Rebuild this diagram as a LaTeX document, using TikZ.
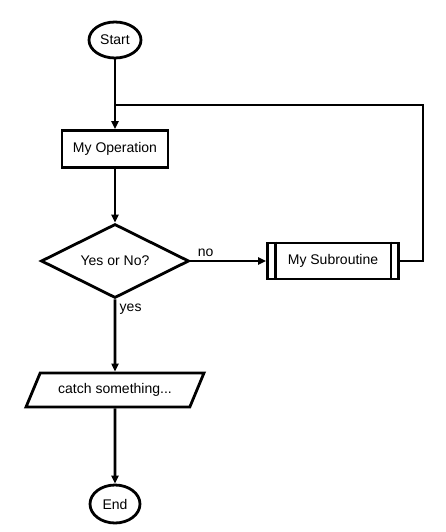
\documentclass[tikz,border=0pt]{standalone}
\usepackage{fontspec}
\setmainfont{Liberation Sans}
\usetikzlibrary{arrows.meta,calc,shapes.geometric}

\begin{document}
\begin{tikzpicture}[x=1pt, y=-1pt, >={Triangle[length=8pt,width=7pt]}, line width=2.8pt,
    every node/.style={font=\fontsize{14}{16}\selectfont},
    terminal/.style={draw, ellipse, minimum width=52, minimum height=36, inner sep=0pt},
    process/.style={draw, rectangle, minimum width=106, minimum height=37},
    decision/.style={draw, diamond, aspect=2, minimum width=148, minimum height=74, inner sep=0pt},
    inout/.style={draw, trapezium, trapezium left angle=60, trapezium right angle=120,
      trapezium stretches=true, minimum width=178, minimum height=34},
    subproc/.style={draw, rectangle, minimum width=131, minimum height=36}]
  % margens da figura
  \useasboundingbox (0,0) rectangle (446,532);

  % blocos do fluxograma
  \node[terminal] (start) at (115,40) {Start};
  \node[process]  (op)    at (115,149) {My Operation};
  \node[decision] (dec)   at (115,261) {Yes or No?};
  \node[subproc]  (sub)   at (333,261) {My Subroutine};
  \node[inout]    (io)    at (115,390) {catch something...};
  \node[terminal, minimum width=50, minimum height=38] (stop) at (115,504) {End};

  % barras laterais da subrotina
  \draw ($(sub.north west)+(9,0)$) -- ($(sub.south west)+(9,0)$);
  \draw ($(sub.north east)+(-9,0)$) -- ($(sub.south east)+(-9,0)$);

  % ligacoes
  \draw[->] (start) -- (op);
  \draw[->] (op) -- (dec);
  \draw[->] (dec.east) -- node[pos=0.2, above]{no} (sub.west);
  \draw[->] (dec.south) -- node[pos=0.13, right]{yes} (io.north);
  \draw[->] (io) -- (stop);

  % retorno da subrotina
  \coordinate (back) at (423,105);
  \draw (sub.east) -| (back) -- (back -| start);
\end{tikzpicture}
\end{document}
